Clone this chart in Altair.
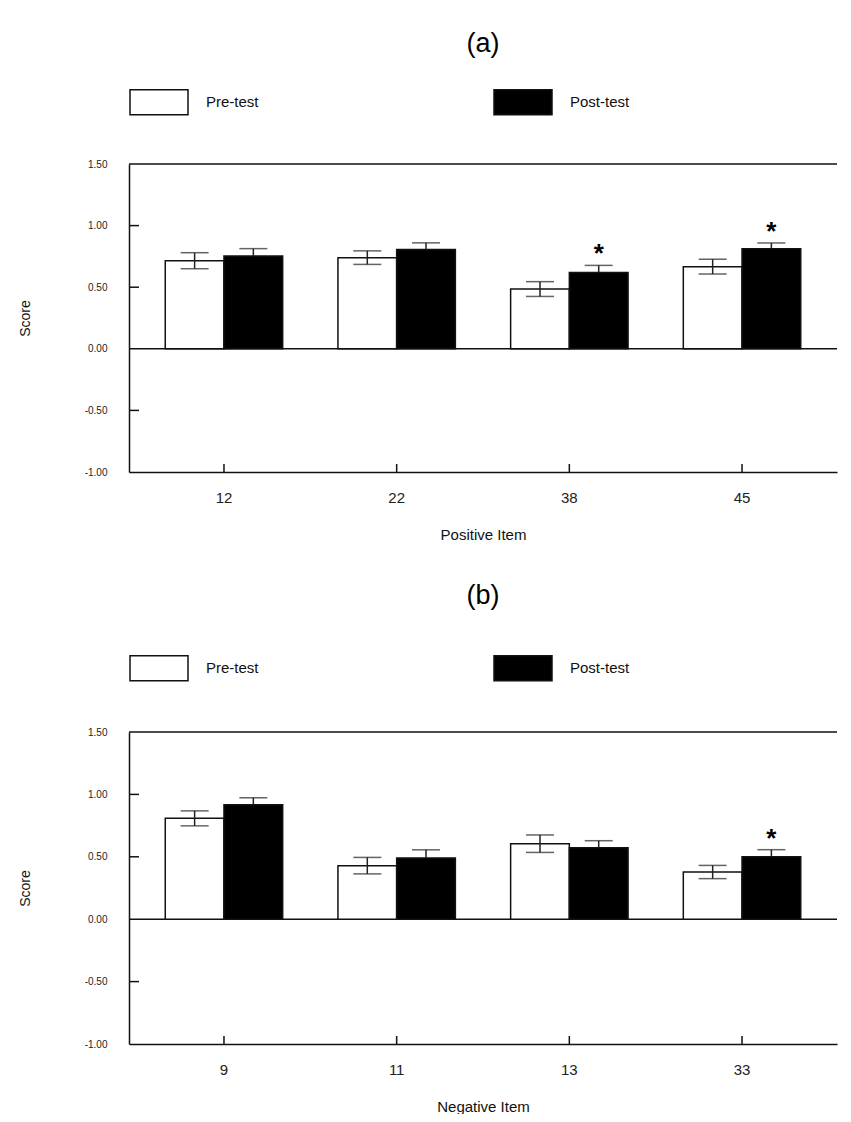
import altair as alt
import pandas as pd

groups = ["Pre-test", "Post-test"]

items_a = ["12", "22", "38", "45"]
pre_a = [0.715, 0.74, 0.485, 0.667]
pre_err_a = [0.065, 0.055, 0.06, 0.06]
post_a = [0.753, 0.805, 0.62, 0.813]
post_err_a = [0.06, 0.055, 0.057, 0.046]
star_a = [False, False, True, True]

items_b = ["9", "11", "13", "33"]
pre_b = [0.808, 0.429, 0.605, 0.378]
pre_err_b = [0.06, 0.066, 0.07, 0.053]
post_b = [0.917, 0.49, 0.573, 0.501]
post_err_b = [0.056, 0.066, 0.056, 0.056]
star_b = [False, False, False, True]

y_ticks = [-1.0, -0.5, 0.0, 0.5, 1.0, 1.5]
inner_ticks = [-0.5, 0.5, 1.0]
frame_lines = [1.5, 0.0]

FONT = "Liberation Sans"
W = 708


def table(items, pre, pre_err, post, post_err, star):
    rows = []
    for i, it in enumerate(items):
        rows.append(dict(item=it, test="Pre-test", score=pre[i],
                         lo=pre[i] - pre_err[i], hi=pre[i] + pre_err[i], star=False))
        rows.append(dict(item=it, test="Post-test", score=post[i],
                         lo=post[i] - post_err[i], hi=post[i] + post_err[i], star=star[i]))
    return pd.DataFrame(rows)


def panel(df, items, title, xtitle, H, legend_y, title_offset):
    yscale = alt.Scale(domain=[-1, 1.5], nice=False, zero=False)
    yax = alt.Axis(values=y_ticks, title="Score",
                   labelExpr="replace(format(datum.value, '.2f'), '\u2212', '-')")
    xax = alt.Axis(title=xtitle)
    xenc = alt.X("item:N", sort=items, title=xtitle,
                 scale=alt.Scale(domain=items, paddingInner=0.32, paddingOuter=0.21),
                 axis=xax)
    xoff = alt.XOffset("test:N", sort=groups,
                       scale=alt.Scale(domain=groups, paddingInner=0, paddingOuter=0))
    base = alt.Chart(df)

    bars = base.mark_bar(stroke="#111", strokeWidth=1.5).encode(
        x=xenc, xOffset=xoff,
        y=alt.Y("score:Q", scale=yscale, axis=yax, title="Score"),
        y2=alt.datum(0),
        fill=alt.Fill("test:N", sort=groups,
                      scale=alt.Scale(domain=groups, range=["white", "black"]),
                      legend=alt.Legend(
                          title=None, orient="none", legendX=0, legendY=legend_y,
                          direction="horizontal", padding=0,
                          symbolType="M-1,-0.431H1V0.431H-1Z", symbolSize=3364,
                          symbolStrokeColor="#111", symbolStrokeWidth=1.5,
                          labelFontSize=15, labelFont=FONT, labelColor="#111",
                          labelOffset=17, columnPadding=232)),
    )
    upper = base.mark_rule(color="#222", strokeWidth=1.5).encode(
        x=xenc, xOffset=xoff,
        y=alt.Y("score:Q", scale=yscale, axis=yax, title="Score"),
        y2="hi:Q",
    )
    lower = base.transform_filter(alt.datum.test == "Pre-test").mark_rule(
        color="#222", strokeWidth=1.5).encode(
        x=xenc, xOffset=xoff,
        y=alt.Y("lo:Q", scale=yscale, axis=yax, title="Score"),
        y2="score:Q",
    )
    cap_hi = base.mark_tick(color="#222", size=28, thickness=1.5).encode(
        x=xenc, xOffset=xoff,
        y=alt.Y("hi:Q", scale=yscale, axis=yax, title="Score"),
    )
    cap_lo = base.transform_filter(alt.datum.test == "Pre-test").mark_tick(
        color="#222", size=28, thickness=1.5).encode(
        x=xenc, xOffset=xoff,
        y=alt.Y("lo:Q", scale=yscale, axis=yax, title="Score"),
    )
    stars = base.transform_filter(alt.datum.star).mark_text(
        text="*", fontSize=26, fontWeight="bold", font=FONT, color="black",
        baseline="middle", dy=-11).encode(
        x=xenc, xOffset=xoff,
        y=alt.Y("hi:Q", scale=yscale, axis=yax, title="Score"),
    )
    frame = alt.Chart(pd.DataFrame({"v": frame_lines})).mark_rule(
        color="#111", strokeWidth=1.5).encode(
        y=alt.Y("v:Q", scale=yscale, axis=yax, title="Score"),
        x=alt.value(0), x2=alt.value(W),
    )
    yticks = alt.Chart(pd.DataFrame({"v": inner_ticks})).mark_rule(
        color="#111", strokeWidth=1.5).encode(
        y=alt.Y("v:Q", scale=yscale, axis=yax, title="Score"),
        x=alt.value(0), x2=alt.value(10),
    )
    xticks = alt.Chart(pd.DataFrame({"item": items})).mark_rule(
        color="#111", strokeWidth=1.5).encode(
        x=xenc, y=alt.value(H), y2=alt.value(H - 8),
    )
    return alt.layer(frame, yticks, xticks, bars, lower, upper, cap_lo, cap_hi, stars).properties(
        width=W, height=H,
        title=alt.TitleParams(title, fontSize=27, font=FONT, fontWeight="normal",
                              frame="group", anchor="middle", offset=title_offset,
                              color="black"),
    )


df_a = table(items_a, pre_a, pre_err_a, post_a, post_err_a, star_a)
df_b = table(items_b, pre_b, pre_err_b, post_b, post_err_b, star_b)

chart = alt.vconcat(
    panel(df_a, items_a, "(a)", "Positive Item", 308, -92, 14),
    panel(df_b, items_b, "(b)", "Negative Item", 312, -94, 28),
    spacing=40,
).resolve_scale(fill="independent").resolve_legend(fill="independent").properties(
    padding={"left": 10, "top": 22, "right": 0, "bottom": 0},
).configure_view(stroke=None).configure_axis(
    domainColor="#111", domainWidth=1.5, ticks=False, grid=False,
    labelFont=FONT, titleFont=FONT, titleFontWeight="normal", labelColor="#222",
    titleColor="#111",
).configure_axisY(
    labelFontSize=10, labelPadding=22, titleFontSize=14, titlePadding=52,
).configure_axisX(
    labelFontSize=15, labelPadding=18, titleFontSize=15, titlePadding=22, labelAngle=0,
)

chart.save("out.html", embed_options={"renderer": "svg", "actions": False})
